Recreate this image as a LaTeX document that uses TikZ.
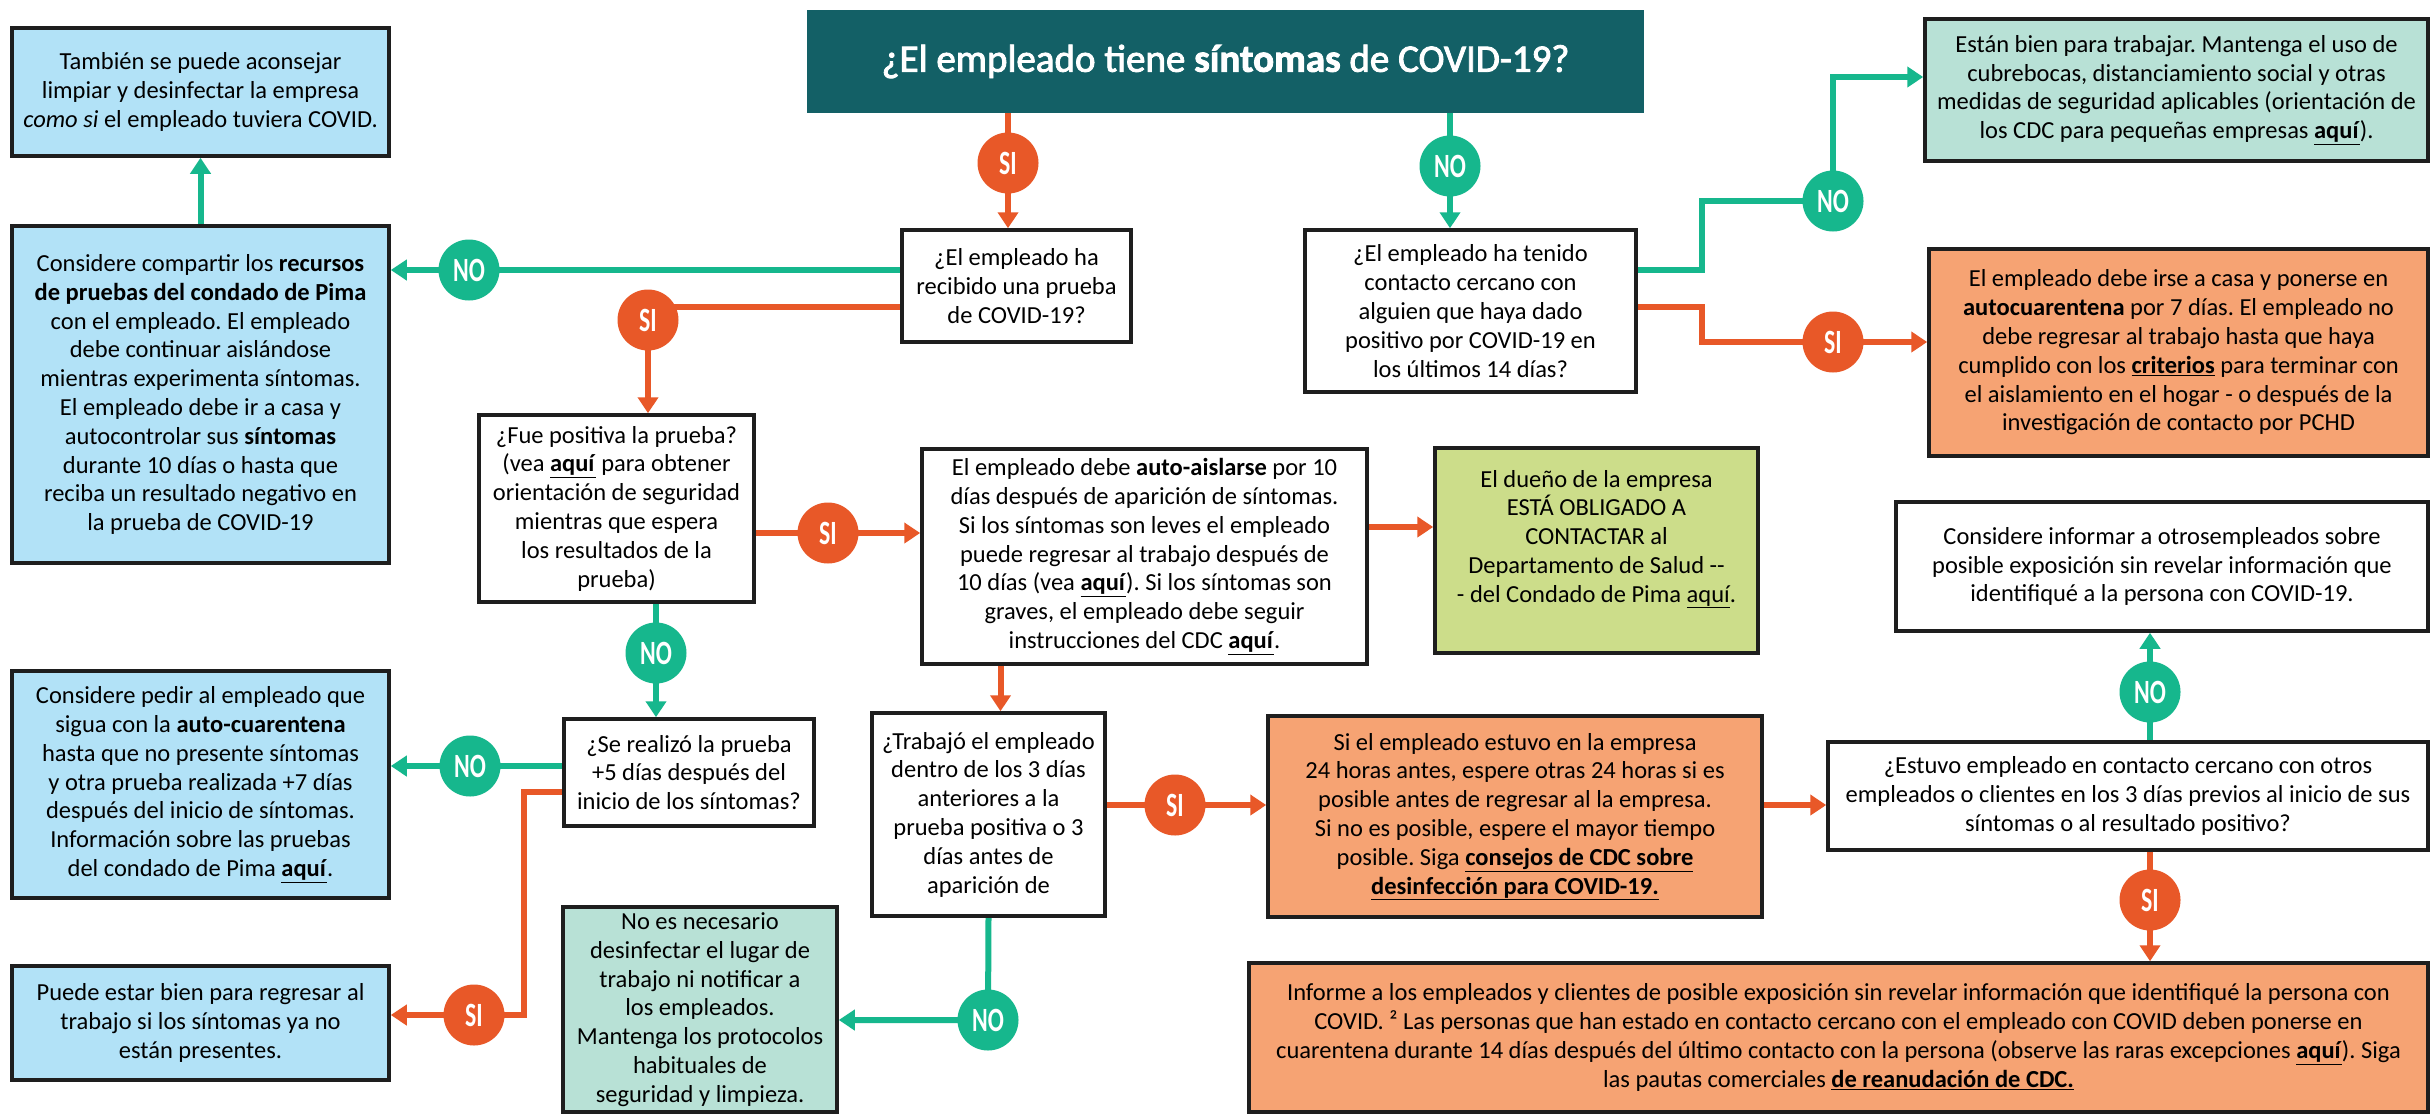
\documentclass[tikz,border=0pt]{standalone}
\usepackage{fontspec}
\setmainfont{Carlito}
\newfontfamily\titlefont[FakeBold=2.2]{Carlito}
\usetikzlibrary{arrows.meta,calc}
\pgfdeclarelayer{bg}
\pgfsetlayers{bg,main}
\frenchspacing
\definecolor{titlec}{RGB}{19,96,102}
\definecolor{lblue}{RGB}{178,226,247}
\definecolor{lteal}{RGB}{184,225,214}
\definecolor{lorange}{RGB}{246,163,115}
\definecolor{lgreen}{RGB}{204,221,138}
\definecolor{cor}{RGB}{232,88,40}
\definecolor{cgr}{RGB}{22,183,141}
\definecolor{bord}{RGB}{30,30,30}
\newcommand{\lk}[1]{\underline{\textbf{#1}}}
\newcommand{\bodyf}{\fontsize{24.5}{28.8}\selectfont}
\tikzset{
  box/.style={draw=bord, line width=3.5pt, inner sep=0pt, align=center, font=\bodyf, text=black},
  sibub/.style={circle, fill=cor, minimum size=61pt, inner sep=0pt, text=white, font=\fontsize{34}{36}\selectfont\bfseries},
  nobub/.style={circle, fill=cgr, minimum size=61pt, inner sep=0pt, text=white, font=\fontsize{34}{36}\selectfont\bfseries},
  oline/.style={draw=cor, line width=6pt},
  gline/.style={draw=cgr, line width=6pt},
  oarr/.style={oline, -{Triangle[length=16pt,width=20pt]}},
  garr/.style={gline, -{Triangle[length=16pt,width=20pt]}},
}
\newcommand{\SIt}{\scalebox{0.7}[1]{SI}}
\newcommand{\NOt}{\scalebox{0.7}[1]{NO}}
\begin{document}
\begin{tikzpicture}[x=1pt,y=-1pt]
\useasboundingbox (0,0) rectangle (2430,1114);
\begin{pgfonlayer}{bg}
\fill[white] (0,0) rectangle (2430,1114);
\end{pgfonlayer}

% title
\node[fill=titlec, minimum width=837pt, minimum height=103pt, inner sep=0pt, text=white,
      font=\titlefont\fontsize{39}{44}\selectfont] (T) at (1225.5,61.5)
  {¿El empleado tiene \textbf{síntomas} de COVID-19?};

% boxes
\node[box, fill=lblue, minimum width=377pt, minimum height=128pt] (A) at (200.5,92)
  {También se puede aconsejar\\limpiar y desinfectar la empresa\\\textit{como si} el empleado tuviera COVID.};
\node[box, fill=lblue, minimum width=377pt, minimum height=337pt] (B) at (200.5,394.5)
  {Considere compartir los \textbf{recursos}\\\textbf{de pruebas del condado de Pima}\\con el empleado. El empleado\\debe continuar aislándose\\mientras experimenta síntomas.\\El empleado debe ir a casa y\\autocontrolar sus \textbf{síntomas}\\durante 10 días o hasta que\\reciba un resultado negativo en\\la prueba de COVID-19};
\node[box, fill=white, minimum width=229pt, minimum height=112pt] (C) at (1016.5,286)
  {¿El empleado ha\\recibido una prueba\\de COVID-19?};
\node[box, fill=white, minimum width=331pt, minimum height=162pt] (D) at (1470.5,311)
  {¿El empleado ha tenido\\contacto cercano con\\alguien que haya dado\\positivo por COVID-19 en\\los últimos 14 días?};
\node[box, fill=lteal, minimum width=503pt, minimum height=142pt] (Q) at (2176.5,90)
  {Están bien para trabajar. Mantenga el uso de\\cubrebocas, distanciamiento social y otras\\medidas de seguridad aplicables (orientación de\\los CDC para pequeñas empresas \lk{aquí}).};
\node[box, fill=lorange, minimum width=499pt, minimum height=207pt] (R) at (2178.5,352.5)
  {El empleado debe irse a casa y ponerse en\\\textbf{autocuarentena} por 7 días. El empleado no\\debe regresar al trabajo hasta que haya\\cumplido con los \lk{criterios} para terminar con\\el aislamiento en el hogar - o después de la\\investigación de contacto por PCHD};
\node[box, fill=white, minimum width=275pt, minimum height=187pt] (E) at (616.5,508.5)
  {¿Fue positiva la prueba?\\(vea \lk{aquí} para obtener\\orientación de seguridad\\mientras que espera\\los resultados de la\\prueba)};
\node[box, fill=white, minimum width=445pt, minimum height=215pt] (F) at (1144.5,556.5)
  {El empleado debe \textbf{auto-aislarse} por 10\\días después de aparición de síntomas.\\Si los síntomas son leves el empleado\\puede regresar al trabajo después de\\10 días (vea \lk{aquí}). Si los síntomas son\\graves, el empleado debe seguir\\instrucciones del CDC \lk{aquí}.};
\node[box, fill=lgreen, minimum width=323pt, minimum height=205pt] (G) at (1596.5,550.5)
  {El dueño de la empresa\\ESTÁ OBLIGADO A\\CONTACTAR al\\Departamento de Salud -{}-\\- del Condado de Pima \underline{aquí}.\\\mbox{}};
\node[box, fill=white, minimum width=532pt, minimum height=129pt] (O) at (2162,566.5)
  {Considere informar a otrosempleados sobre\\posible exposición sin revelar información que\\identifiqué a la persona con COVID-19.};
\node[box, fill=white, minimum width=250pt, minimum height=107pt] (H) at (689,772.5)
  {¿Se realizó la prueba\\+5 días después del\\inicio de los síntomas?};
\node[box, fill=lblue, minimum width=377pt, minimum height=227pt] (I) at (200.5,784.5)
  {Considere pedir al empleado que\\sigua con la \textbf{auto-cuarentena}\\hasta que no presente síntomas\\y otra prueba realizada +7 días\\después del inicio de síntomas.\\Información sobre las pruebas\\del condado de Pima \lk{aquí}.};
\node[box, fill=lblue, minimum width=377pt, minimum height=114pt] (J) at (200.5,1023)
  {Puede estar bien para regresar al\\trabajo si los síntomas ya no\\están presentes.};
\node[box, fill=lteal, minimum width=274pt, minimum height=205pt] (K) at (700,1009.5)
  {No es necesario\\desinfectar el lugar de\\trabajo ni notificar a\\los empleados.\\Mantenga los protocolos\\habituales de\\seguridad y limpieza.};
\node[box, fill=white, minimum width=233pt, minimum height=203pt] (L) at (988.5,814.5)
  {¿Trabajó el empleado\\dentro de los 3 días\\anteriores a la\\prueba positiva o 3\\días antes de\\aparición de};
\node[box, fill=lorange, minimum width=494pt, minimum height=201pt] (M) at (1515,816.5)
  {Si el empleado estuvo en la empresa\\24 horas antes, espere otras 24 horas si es\\posible antes de regresar al la empresa.\\Si no es posible, espere el mayor tiempo\\posible. Siga \lk{consejos de CDC sobre}\\\lk{desinfección para COVID-19.}};
\node[box, fill=white, minimum width=600pt, minimum height=108pt] (N) at (2128,796)
  {¿Estuvo empleado en contacto cercano con otros\\empleados o clientes en los 3 días previos al inicio de sus\\síntomas o al resultado positivo?};
\node[box, fill=lorange, minimum width=1179pt, minimum height=149pt] (P) at (1838.5,1037.5)
  {Informe a los empleados y clientes de posible exposición sin revelar información que identifiqué la persona con\\COVID. ² Las personas que han estado en contacto cercano con el empleado con COVID deben ponerse en\\cuarentena durante 14 días después del último contacto con la persona (observe las raras excepciones \lk{aquí}). Siga\\las pautas comerciales \lk{de reanudación de CDC.}};

% bubbles
\node[sibub] (si1) at (1008,163) {\SIt};
\node[nobub] (no1) at (1450,166) {\NOt};
\node[nobub] (no2) at (469,270) {\NOt};
\node[sibub] (si2) at (648,320) {\SIt};
\node[sibub] (si3) at (828,533) {\SIt};
\node[nobub] (no3) at (1833,201) {\NOt};
\node[sibub] (si7) at (1833,342) {\SIt};
\node[nobub] (no4) at (656,653) {\NOt};
\node[nobub] (no5) at (470,766) {\NOt};
\node[sibub] (si4) at (474,1015) {\SIt};
\node[sibub] (si5) at (1175,805) {\SIt};
\node[nobub] (no6) at (988,1020) {\NOt};
\node[nobub] (no7) at (2150,692) {\NOt};
\node[sibub] (si6) at (2150,900) {\SIt};

\coordinate (c4) at (648,307);
\coordinate (c9) at (524,792);
\coordinate (fg) at ([yshift=29.5pt]F.east);
\coordinate (fl) at ([xshift=12pt]L.north);
\coordinate (qin) at ([yshift=13pt]Q.west);

\begin{pgfonlayer}{bg}
\draw[oarr] (si1 |- T.south) -- (si1.center) -- (si1 |- C.north);
\draw[garr] (no1 |- T.south) -- (no1.center) -- (no1 |- D.north);
\draw[garr] (C.west |- no2) -- (no2.center) -- (no2 -| B.east);
\draw[oarr] (C.west |- c4) -- (c4) -- (si2.center) -- (si2 |- E.north);
\draw[oarr] (E.east |- si3) -- (si3.center) -- (si3 -| F.west);
\draw[oarr] (fg) -- (fg -| G.west);
\draw[garr] (no4 |- E.south) -- (no4.center) -- (no4 |- H.north);
\draw[garr] (H.west |- no5) -- (no5.center) -- (no5 -| I.east);
\draw[oarr] (H.west |- c9) -- (c9) |- (si4.center) -- (si4 -| J.east);
\draw[oarr] (fl |- F.south) -- (fl);
\draw[oarr] (L.east |- si5) -- (si5.center) -- (si5 -| M.west);
\draw[oarr] (M.east |- si5) -- (si5 -| N.west);
\draw[garr] (L.south) -- (no6.center) -- (no6 -| K.east);
\draw[garr] (no7 |- N.north) -- (no7.center) -- (no7 |- O.south);
\draw[oarr] (si6 |- N.south) -- (si6.center) -- (si6 |- P.north);
\draw[garr] (D.east |- no2) -- ++(64pt,0pt) |- (no3.center) |- (qin);
\draw[oarr] (D.east |- c4) -- ++(64pt,0pt) |- (si7.center) -- (si7 -| R.west);
\draw[garr] (B.north) -- (A.south);
\end{pgfonlayer}
\end{tikzpicture}
\end{document}
